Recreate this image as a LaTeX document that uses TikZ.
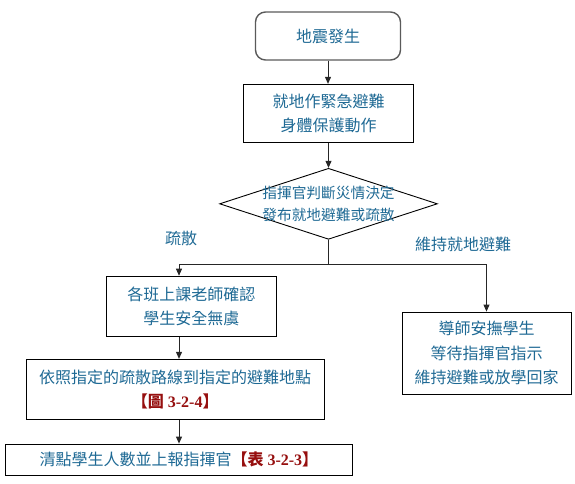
\documentclass[tikz,border=0pt]{standalone}
\usepackage{fontspec}
\setmainfont{Liberation Serif}
\newfontfamily\cjk{Noto Sans CJK TC}
\usetikzlibrary{shapes.geometric,arrows.meta}
\definecolor{txt}{RGB}{30,105,148}
\definecolor{refred}{RGB}{150,15,15}
\definecolor{startgray}{RGB}{90,90,90}
\newcommand{\reffig}[2]{{\color{refred}\cjk\bfseries【#1\hspace{4pt}\rmfamily\bfseries #2\cjk\bfseries】}}
\tikzset{
  base/.style={inner sep=0pt, align=center, text=txt, font=\cjk\fontsize{16}{24.5}\selectfont},
  box/.style={base, draw=black, line width=0.9pt, rectangle},
  startbox/.style={base, draw=startgray, line width=1.4pt, rounded corners=10pt},
  dia/.style={draw=black, line width=0.9pt, diamond, inner sep=0pt},
  diatext/.style={base, font=\cjk\fontsize{14.7}{21.6}\selectfont},
  lbl/.style={base},
  conn/.style={draw=black!85, line width=0.9pt},
  arr/.style={conn, -{Triangle[length=7pt,width=6pt]}}
}
\begin{document}
\begin{tikzpicture}[x=1pt,y=-1pt]
\useasboundingbox (0,0) rectangle (575,483);
\node[startbox, minimum width=145pt, minimum height=48pt] (start) at (328,36) {地震發生};
\node[box, minimum width=170pt, minimum height=58.4pt] (act) at (328.7,113.5) {就地作緊急避難\\身體保護動作};
\node[dia, minimum width=217.8pt, minimum height=71pt] (dec) at (328.5,203.8) {};
\node[diatext] (dectext) at (dec.center) {指揮官判斷災情決定\\發布就地避難或疏散};
\coordinate (J) at (328.5,264);
\coordinate (L) at (179,264);
\coordinate (R) at (486.5,264);
\node[box, minimum width=169.3pt, minimum height=60.7pt] (check) at (191.3,306.5) {各班上課老師確認\\學生安全無虞};
\node[box, minimum width=298.4pt, minimum height=60pt] (route) at (175.2,389.3) {依照指定的疏散路線到指定的避難地點\\\reffig{圖}{3-2-4}};
\node[box, minimum width=347.4pt, minimum height=31.3pt] (count) at (178.9,459.7) {清點學生人數並上報指揮官\reffig{表}{3-2-3}};
\node[box, minimum width=169pt, minimum height=82.3pt] (stay) at (486.5,353.2) {導師安撫學生\\等待指揮官指示\\維持避難或放學回家};
\node[lbl] (lblevac) at (181,238) {疏散};
\node[lbl] (lblstay) at (463,244) {維持就地避難};
\draw[arr] (start.south) -- (act.north -| start.south);
\draw[arr] (act.south -| dec.north) -- (dec.north);
\draw[conn] (dec.south) -- (J);
\draw[conn] (L) -- (R);
\draw[arr] (L) -- (L |- check.north);
\draw[arr] (R) -- (R |- stay.north);
\draw[arr] (L |- check.south) -- (L |- route.north);
\draw[arr] (L |- route.south) -- (L |- count.north);
\end{tikzpicture}
\end{document}
